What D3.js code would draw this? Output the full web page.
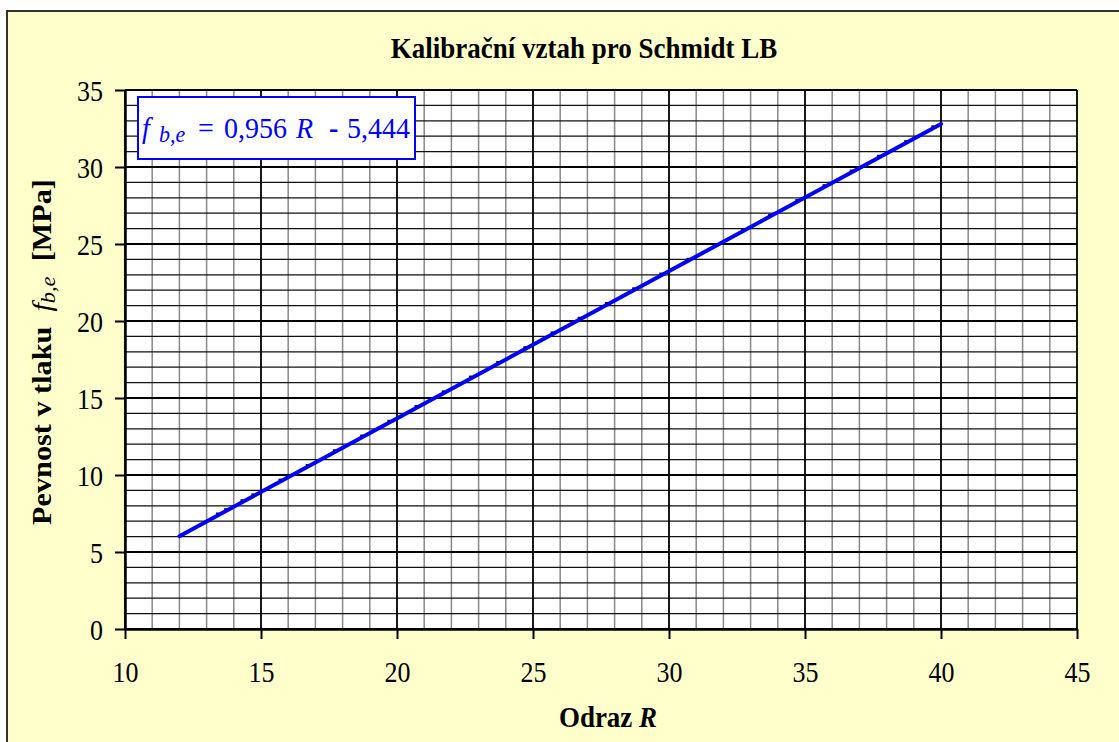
<!DOCTYPE html>
<html>
<head>
<meta charset="utf-8">
<script src="https://cdn.jsdelivr.net/npm/d3@7"></script>
<style>
  body { margin: 0; background: #fff; }
  svg { display: block; }
  text { font-family: "Liberation Serif", "Times New Roman", serif; }
</style>
</head>
<body>
<div id="svganchor"></div>
<script>
// fitted calibration line f = 0,956 R - 5,444 (end points)
const fitR = [12, 40];
const fitF = [6.028, 32.796];

// small point marks visible along the line
const pointR = [13.4, 13.7, 14.3, 14.7, 15.7, 16.7, 17.7, 18.7, 19.7, 20.7, 21.7, 22.7, 23.7, 24.7, 25.7, 26.7, 27.7, 28.7, 29.7, 30.7, 31.7, 32.7, 33.7, 34.7, 35.7, 36.7, 37.7, 38.7, 39.7];
const pointF = [7.37, 7.65, 8.23, 8.61, 9.57, 10.52, 11.48, 12.43, 13.39, 14.35, 15.30, 16.26, 17.21, 18.17, 19.13, 20.08, 21.04, 21.99, 22.95, 23.91, 24.86, 25.82, 26.77, 27.73, 28.69, 29.64, 30.60, 31.55, 32.51];

const xTicks = [10, 15, 20, 25, 30, 35, 40, 45];
const yTicks = [0, 5, 10, 15, 20, 25, 30, 35];
const xMinor = d3.range(10, 46, 1);
const yMinor = d3.range(0, 36, 1);

const width = 1119, height = 742;
const margin = { top: 90, left: 125, right: 42, bottom: 113 };
const sy = 1.12; // the original text is a bit taller than wide

const svg = d3.select("#svganchor").append("svg")
  .attr("width", width).attr("height", height);

// chart background + frame
svg.append("rect")
  .attr("x", 7).attr("y", 11)
  .attr("width", 1125).attr("height", 745)
  .attr("fill", "#FFFFCC")
  .attr("stroke", "#333").attr("stroke-width", 2);

const x = d3.scaleLinear().domain([10, 45]).range([margin.left, width - margin.right]);
const y = d3.scaleLinear().domain([0, 35]).range([height - margin.bottom, margin.top]);

// plot area
svg.append("rect")
  .attr("x", x(10)).attr("y", y(35))
  .attr("width", x(45) - x(10)).attr("height", y(0) - y(35))
  .attr("fill", "#fff");

// minor grid
svg.append("g").selectAll("line")
  .data(xMinor.filter(d => d % 5 !== 0))
  .join("line")
  .attr("x1", d => x(d)).attr("x2", d => x(d))
  .attr("y1", y(0)).attr("y2", y(35))
  .attr("stroke", "#888").attr("stroke-width", 1.5);

svg.append("g").selectAll("line")
  .data(yMinor.filter(d => d % 5 !== 0))
  .join("line")
  .attr("x1", x(10)).attr("x2", x(45))
  .attr("y1", d => y(d)).attr("y2", d => y(d))
  .attr("stroke", "#111").attr("stroke-width", 1.2);

// major grid
svg.append("g").selectAll("line")
  .data(xTicks)
  .join("line")
  .attr("x1", d => x(d)).attr("x2", d => x(d))
  .attr("y1", y(0)).attr("y2", y(35))
  .attr("stroke", "#000").attr("stroke-width", 1.8);

svg.append("g").selectAll("line")
  .data(yTicks)
  .join("line")
  .attr("x1", x(10)).attr("x2", x(45))
  .attr("y1", d => y(d)).attr("y2", d => y(d))
  .attr("stroke", "#000").attr("stroke-width", 1.8);

// axes
const xAxis = svg.append("g")
  .attr("transform", `translate(0,${y(0)})`)
  .call(d3.axisBottom(x).tickValues(xTicks).tickSize(10).tickSizeOuter(0));
const yAxis = svg.append("g")
  .attr("transform", `translate(${x(10)},0)`)
  .call(d3.axisLeft(y).tickValues(yTicks).tickSize(10).tickSizeOuter(0).tickPadding(12));

[xAxis, yAxis].forEach(a => {
  a.select(".domain").attr("stroke", "#000").attr("stroke-width", 2.5);
  a.selectAll(".tick line").attr("stroke", "#000").attr("stroke-width", 2);
  a.selectAll(".tick text")
    .attr("fill", "#000")
    .attr("transform", `scale(1,${sy})`)
    .style("font-family", "'Liberation Serif', serif")
    .style("font-size", "26px");
});
yAxis.selectAll(".tick text").attr("dy", "0.35em");
xAxis.selectAll(".tick text").attr("y", 29).attr("dy", "0.71em");

// fitted line
const line = d3.line().x(d => x(d[0])).y(d => y(d[1]));
svg.append("path")
  .datum(fitR.map((r, i) => [r, fitF[i]]))
  .attr("d", line)
  .attr("fill", "none")
  .attr("stroke", "#0000FF")
  .attr("stroke-width", 4)
  .attr("stroke-linecap", "round");

// point marks
svg.append("g").selectAll("rect")
  .data(pointR.map((r, i) => [r, pointF[i]]))
  .join("rect")
  .attr("x", d => x(d[0]) - 1.5)
  .attr("y", d => y(d[1]) - 3)
  .attr("width", 3).attr("height", 2)
  .attr("fill", "#000090");

// equation box
svg.append("rect")
  .attr("x", 138).attr("y", 97)
  .attr("width", 277).attr("height", 62)
  .attr("fill", "#fff")
  .attr("stroke", "#0000FF").attr("stroke-width", 2);

const eq = svg.append("text")
  .attr("transform", `translate(0,138) scale(1,1.05)`)
  .attr("fill", "#0000FF")
  .style("font-size", "28px");
eq.append("tspan").attr("x", 142).style("font-style", "italic").text("f");
eq.append("tspan").attr("x", 159).attr("dy", 4).style("font-style", "italic").style("font-size", "22px").text("b,e");
eq.append("tspan").attr("x", 198).attr("dy", -4).text("=");
eq.append("tspan").attr("x", 224).text("0,956");
eq.append("tspan").attr("x", 296).style("font-style", "italic").text("R");
eq.append("tspan").attr("x", 329).style("font-weight", "bold").text("-");
eq.append("tspan").attr("x", 347).text("5,444");

// title
svg.append("text")
  .attr("transform", `translate(584,58) scale(1,${sy})`)
  .attr("text-anchor", "middle")
  .style("font-size", "27px").style("font-weight", "bold")
  .text("Kalibrační vztah pro Schmidt LB");

// x axis title
const xt = svg.append("text")
  .attr("transform", `translate(608,727) scale(1,${sy})`)
  .attr("text-anchor", "middle")
  .style("font-size", "27px").style("font-weight", "bold");
xt.append("tspan").text("Odraz ");
xt.append("tspan").style("font-style", "italic").text("R");

// y axis title
const yt = svg.append("text")
  .attr("transform", `translate(51,352) rotate(-90) scale(${sy},1)`)
  .attr("text-anchor", "middle")
  .style("font-size", "27px").style("font-weight", "bold");
yt.append("tspan").text("Pevnost v tlaku\u00a0 ");
yt.append("tspan").style("font-style", "italic").style("font-weight", "normal").text("f");
yt.append("tspan").attr("dy", 4).style("font-style", "italic").style("font-weight", "normal").style("font-size", "20px").text("b,e");
yt.append("tspan").attr("dy", -4).text("\u00a0 [MPa]");
</script>
</body>
</html>
